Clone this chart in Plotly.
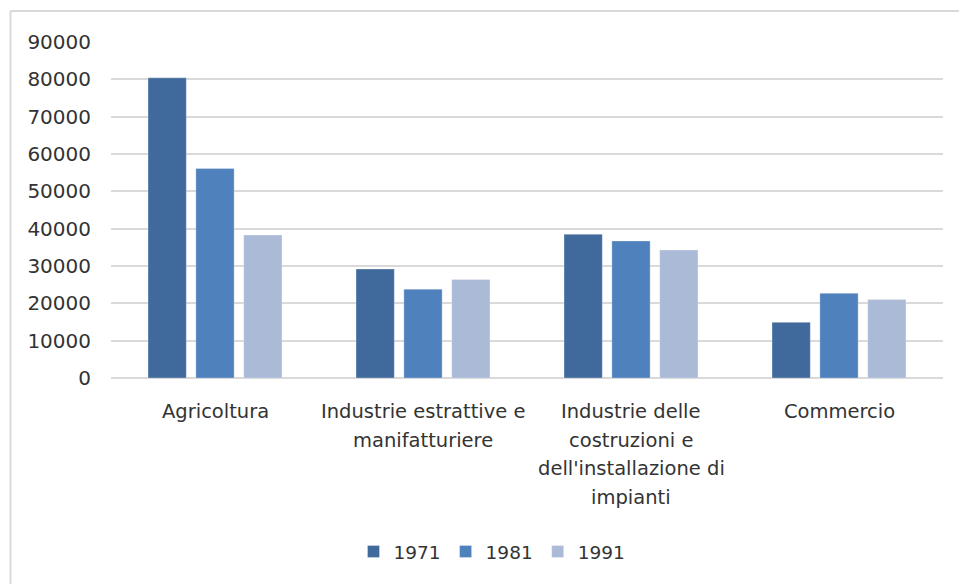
import plotly.graph_objects as go

categories = ["Agricoltura", "Industrie estrattive e manifatturiere",
              "Industrie delle costruzioni e dell'installazione di impianti", "Commercio"]
label_lines = [["Agricoltura"],
               ["Industrie estrattive e", "manifatturiere"],
               ["Industrie delle", "costruzioni e", "dell'installazione di", "impianti"],
               ["Commercio"]]
years = ["1971", "1981", "1991"]
v1971 = [80400, 29200, 38500, 14900]
v1981 = [56100, 23800, 36700, 22700]
v1991 = [38300, 26400, 34300, 21000]
yticks = [0, 10000, 20000, 30000, 40000, 50000, 60000, 70000, 80000, 90000]

colors = ["#406A9B", "#4F81BD", "#ABBAD7"]
series = [v1971, v1981, v1991]
TXT = "#333333"

fig = go.Figure()
for name, vals, c in zip(years, series, colors):
    fig.add_trace(go.Bar(x=categories, y=vals, name=name,
                         marker=dict(color=c, line=dict(color="rgba(255,255,255,0.6)", width=0.5))))

W, H = 959, 584
L, R, T, B = 111, 16, 42, 206
pw, ph = W - L - R, H - T - B

def px_x(p):
    return (p - L) / pw

def px_y(p):
    return (T + ph - p) / ph

fig.update_layout(
    width=W, height=H,
    margin=dict(l=L, r=R, t=T, b=B),
    paper_bgcolor="white", plot_bgcolor="white",
    barmode="group", bargap=0.31, bargroupgap=0.2,
    font=dict(family="DejaVu Sans", size=18, color=TXT),
    showlegend=True,
    legend=dict(orientation="h", x=px_x(492), xanchor="center",
                y=px_y(552), yanchor="middle",
                font=dict(size=18.5, color=TXT), itemwidth=30,
                traceorder="normal"),
)
fig.update_xaxes(range=[-0.5, 3.5], showticklabels=False, showgrid=False,
                 showline=False, zeroline=False, ticks="")
fig.update_yaxes(range=[0, 90000], tickvals=yticks, ticktext=[str(v) for v in yticks],
                 showgrid=True, gridcolor="#D9D9D9", gridwidth=2,
                 zeroline=True, zerolinecolor="#D9D9D9", zerolinewidth=2,
                 showline=False, ticks="", ticklabelstandoff=19,
                 tickfont=dict(size=20, color=TXT))

line_y = [411.5, 440, 468.5, 497]
for cat, lines in zip(categories, label_lines):
    for i, t in enumerate(lines):
        fig.add_annotation(x=cat, xref="x", y=px_y(line_y[i]), yref="paper",
                           text=t, showarrow=False, yanchor="middle", xanchor="center",
                           font=dict(size=19.5, color=TXT))

# outer chart-area border (left and top)
fig.add_shape(type="line", xref="paper", yref="paper",
              x0=px_x(10.5), x1=px_x(960), y0=px_y(11), y1=px_y(11),
              line=dict(color="#D9D9D9", width=2))
fig.add_shape(type="line", xref="paper", yref="paper",
              x0=px_x(10.5), x1=px_x(10.5), y0=px_y(11), y1=px_y(590),
              line=dict(color="#D9D9D9", width=2))

fig.write_html("out.html", config={"displayModeBar": False},
               post_script="document.body.style.margin='0';document.body.style.overflow='hidden';")
